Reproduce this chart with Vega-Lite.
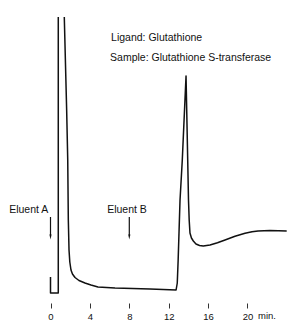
{
  "$schema": "https://vega.github.io/schema/vega-lite/v6.json",
  "width": 303,
  "height": 325,
  "padding": 0,
  "autosize": {"type": "none"},
  "background": "white",
  "config": {"view": {"stroke": null}, "font": "Liberation Sans"},
  "datasets": {
    "trace": [
      {"s": 1, "i": 1, "t": 0, "y": 26},
      {"s": 1, "i": 2, "t": 0, "y": 10},
      {"s": 1, "i": 3, "t": 0.79, "y": 10},
      {"s": 1, "i": 4, "t": 0.79, "y": 286},
      {"s": 2, "i": 5, "t": 1.40, "y": 286},
      {"s": 2, "i": 6, "t": 1.64, "y": 193},
      {"s": 2, "i": 7, "t": 1.75, "y": 143},
      {"s": 2, "i": 8, "t": 1.81, "y": 83},
      {"s": 2, "i": 9, "t": 1.88, "y": 53},
      {"s": 2, "i": 10, "t": 1.96, "y": 41},
      {"s": 2, "i": 11, "t": 2.08, "y": 33},
      {"s": 2, "i": 12, "t": 2.23, "y": 29},
      {"s": 2, "i": 13, "t": 2.49, "y": 25.5},
      {"s": 2, "i": 14, "t": 2.89, "y": 22.5},
      {"s": 2, "i": 15, "t": 3.50, "y": 20},
      {"s": 2, "i": 16, "t": 4.11, "y": 18},
      {"s": 2, "i": 17, "t": 4.82, "y": 16},
      {"s": 2, "i": 18, "t": 6.55, "y": 15},
      {"s": 2, "i": 19, "t": 10.10, "y": 14},
      {"s": 2, "i": 20, "t": 12.75, "y": 13},
      {"s": 2, "i": 21, "t": 12.87, "y": 20},
      {"s": 2, "i": 22, "t": 12.96, "y": 43},
      {"s": 2, "i": 23, "t": 13.15, "y": 103},
      {"s": 2, "i": 24, "t": 13.38, "y": 143},
      {"s": 2, "i": 25, "t": 13.76, "y": 227},
      {"s": 2, "i": 26, "t": 13.93, "y": 143},
      {"s": 2, "i": 27, "t": 14.01, "y": 103},
      {"s": 2, "i": 28, "t": 14.08, "y": 83},
      {"s": 2, "i": 29, "t": 14.16, "y": 70},
      {"s": 2, "i": 30, "t": 14.31, "y": 65},
      {"s": 2, "i": 31, "t": 14.50, "y": 62},
      {"s": 2, "i": 32, "t": 14.77, "y": 59},
      {"s": 2, "i": 33, "t": 15.13, "y": 57.5},
      {"s": 2, "i": 34, "t": 15.51, "y": 57},
      {"s": 2, "i": 35, "t": 16.19, "y": 58},
      {"s": 2, "i": 36, "t": 16.95, "y": 60.3},
      {"s": 2, "i": 37, "t": 17.72, "y": 63},
      {"s": 2, "i": 38, "t": 18.73, "y": 66.7},
      {"s": 2, "i": 39, "t": 19.75, "y": 69.7},
      {"s": 2, "i": 40, "t": 20.46, "y": 71.2},
      {"s": 2, "i": 41, "t": 21.07, "y": 72},
      {"s": 2, "i": 42, "t": 22.28, "y": 72.5},
      {"s": 2, "i": 43, "t": 23.98, "y": 72}
    ],
    "labels": [
      {"t": 6.15, "y": 265, "label": "Ligand: Glutathione"},
      {"t": 6.05, "y": 245, "label": "Sample: Glutathione S-transferase"},
      {"t": -4.2, "y": 93, "label": "Eluent A"},
      {"t": 5.75, "y": 93, "label": "Eluent B"}
    ],
    "unit": [
      {"t": 21.07, "y": -8, "label": "min."}
    ],
    "arrows": [
      {"t": 0, "y": 86, "y2": 68, "yh": 66},
      {"t": 8, "y": 86, "y2": 68, "yh": 66}
    ]
  },
  "encoding": {
    "x": {
      "field": "t", "type": "quantitative",
      "scale": {"domain": [-5.127, 25.635], "nice": false, "zero": false},
      "axis": {
        "values": [0, 4, 8, 12, 16, 20],
        "domain": false, "grid": false, "title": null,
        "offset": -22,
        "tickSize": 5, "tickColor": "#333", "tickWidth": 1,
        "labelPadding": 3, "labelFontSize": 9.5, "labelColor": "#111",
        "labelFont": "Liberation Sans"
      }
    },
    "y": {
      "field": "y", "type": "quantitative",
      "scale": {"domain": [-22, 303], "nice": false, "zero": false},
      "axis": null
    }
  },
  "layer": [
    {
      "data": {"name": "trace"},
      "mark": {"type": "line", "color": "#111", "strokeWidth": 1.5, "clip": false, "strokeJoin": "round"},
      "encoding": {
        "detail": {"field": "s", "type": "nominal"},
        "order": {"field": "i", "type": "quantitative"}
      }
    },
    {
      "data": {"name": "labels"},
      "mark": {"type": "text", "align": "left", "baseline": "middle", "fontSize": 10.5, "color": "#111", "font": "Liberation Sans"},
      "encoding": {"text": {"field": "label", "type": "nominal"}}
    },
    {
      "data": {"name": "unit"},
      "mark": {"type": "text", "align": "left", "baseline": "top", "fontSize": 9.5, "color": "#111", "font": "Liberation Sans"},
      "encoding": {"text": {"field": "label", "type": "nominal"}}
    },
    {
      "data": {"name": "arrows"},
      "mark": {"type": "rule", "color": "#111", "strokeWidth": 1.2},
      "encoding": {"y2": {"field": "y2"}}
    },
    {
      "data": {"name": "arrows"},
      "mark": {"type": "point", "shape": "M -0.22 -0.5 L 0.22 -0.5 L 0 0.5 Z", "filled": true, "color": "#111", "size": 100, "opacity": 1},
      "encoding": {"y": {"field": "yh", "type": "quantitative"}}
    }
  ]
}
